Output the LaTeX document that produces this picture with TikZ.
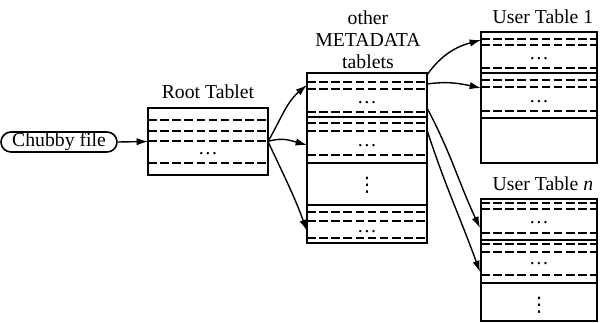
\documentclass[tikz,border=0pt]{standalone}
\usepackage{fontspec}
\setmainfont{Liberation Serif}
\newfontfamily\dvfont{DejaVu Sans}
\usetikzlibrary{arrows.meta}
\begin{document}
\begin{tikzpicture}[x=0.75pt,y=-0.75pt,
  box/.style={draw, line width=1.35pt},
  sep/.style={line width=1.3pt},
  dsh/.style={line width=1.3pt, dash pattern=on 6.5pt off 2.6pt},
  conn/.style={line width=1.05pt, -{Latex[length=8.5pt,width=5.5pt]}},
  lbl/.style={font=\fontsize{14.8}{17}\selectfont, anchor=base, inner sep=0pt},
  dt/.style={font=\dvfont\fontsize{15}{15}\selectfont, inner sep=0pt}]
\useasboundingbox (0,0) rectangle (601,322);

% Chubby file
\node[draw, line width=1.2pt, rounded corners=7.5pt, minimum width=87pt, minimum height=15pt,
      inner sep=0pt, font=\fontsize{14.8}{17}\selectfont] (chubby) at (59,142) {Chubby file};

% Root tablet
\node[lbl] (rootlbl) at (208,98) {Root Tablet};
\draw[box] (148,108) rectangle (268,175);
\foreach \y in {120,131,141,163} \draw[dsh] (148,\y) -- (268,\y);
\node[lbl] (rootdots) at (208,154) {\dots};
\coordinate (rootW) at (148,141.5);
\coordinate (rootE) at (268,141.5);

% Metadata tablets
\node[lbl] (mlbl1) at (368,24) {other};
\node[lbl] (mlbl2) at (368,46) {METADATA};
\node[lbl] (mlbl3) at (368,68) {tablets};
\draw[box] (307,73) rectangle (427,243);
\foreach \y in {82,89,112,123,131,155,212,221,238} \draw[dsh] (307,\y) -- (427,\y);
\foreach \y in {117,163,205} \draw[sep] (307,\y) -- (427,\y);
\node[lbl] (md1) at (367,103) {\dots};
\node[lbl] (md2) at (367,146) {\dots};
\node[lbl] (md4) at (367,232) {\dots};
\node[dt] (md3) at (367,185.5) {⋮};
\coordinate (mA) at (307,85);
\coordinate (mB) at (307,145);
\coordinate (mC) at (307,231);
\coordinate (m1) at (427,75);
\coordinate (m2) at (427,84);
\coordinate (m3) at (427,108);
\coordinate (m4) at (427,130);

% User Table 1
\node[lbl] (u1lbl) at (543,23) {User Table 1};
\draw[box] (481,32) rectangle (597,163);
\foreach \y in {39,45,68,80,87,111} \draw[dsh] (481,\y) -- (597,\y);
\foreach \y in {73,118} \draw[sep] (481,\y) -- (597,\y);
\node[lbl] (u1d1) at (539,59) {\dots};
\node[lbl] (u1d2) at (539,102) {\dots};
\coordinate (u1a) at (481,40);
\coordinate (u1b) at (481,88);

% User Table n
\node[lbl] (unlbl) at (543,190) {User Table \textit{n}};
\draw[box] (481,199) rectangle (597,321);
\foreach \y in {203,209,233,244,252,275} \draw[dsh] (481,\y) -- (597,\y);
\foreach \y in {240,283} \draw[sep] (481,\y) -- (597,\y);
\node[lbl] (und1) at (539,223) {\dots};
\node[lbl] (und2) at (539,264) {\dots};
\node[dt] (und3) at (539,305) {⋮};
\coordinate (una) at (480,228);
\coordinate (unb) at (480,272);

% connectors
\draw[conn] (chubby.east) -- (rootW);
\draw[conn] (rootE) to[out=60,in=-140] (mA);
\draw[conn] (rootE) to[out=18,in=165] (mB);
\draw[conn] (rootE) to[out=-65,in=110] (mC);
\draw[conn] (m1) to[out=55,in=195] (u1a);
\draw[conn] (m2) to[out=8,in=168] (u1b);
\draw[conn] (m3) to[out=-62,in=115] (una);
\draw[conn] (m4) to[out=-72,in=110] (unb);
\end{tikzpicture}
\end{document}
